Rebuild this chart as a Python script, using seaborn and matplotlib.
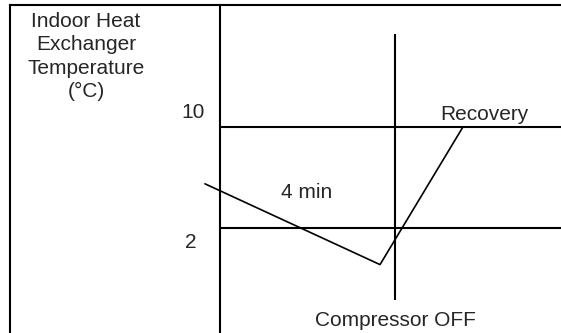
import matplotlib
matplotlib.use("Agg")
import matplotlib.pyplot as plt
from matplotlib.lines import Line2D
import numpy as np
import pandas as pd
import seaborn as sns

# Heat exchanger temperature profile (time in minutes, 0 = drop below 2 °C)
time_min = [-4.0, 3.37, 6.86]
temp_c = [5.5, -0.9, 10.0]
thresholds = [10, 2]
threshold_labels = ["10", "2"]
compressor_off_time = 4.0
hold_label = "4 min"
ylabel_lines = ["Indoor Heat", "Exchanger", "Temperature", "(°C)"]

sns.set_style("white")
plt.rcParams["font.family"] = ["Liberation Sans", "DejaVu Sans"]

W, H = 561, 333
fig = plt.figure(figsize=(W / 100, H / 100), dpi=100)
ax = fig.add_axes([0, 0, 1, 1])


def fx(px):
    return px / W


def fy(py):
    return 1 - py / H


# table frame
lw_frame = 1.5
for xs, ys in [((10, 10), (5, 333)), ((220, 220), (5, 333)), ((10, 561), (5, 5))]:
    fig.add_artist(Line2D([fx(x) for x in xs], [fy(y) for y in ys],
                          color="black", lw=lw_frame, solid_capstyle="projecting"))

# threshold lines across the right cell
cell_left = -3.37
ax.hlines(thresholds, cell_left, 11, colors="black", lw=lw_frame)

# compressor off marker
ax.vlines(compressor_off_time, -3.7, 17.4, colors="black", lw=lw_frame)

# temperature curve
df = pd.DataFrame({"t": time_min, "T": temp_c})
sns.lineplot(data=df, x="t", y="T", ax=ax, color="black", lw=1.2, sort=False,
             estimator=None)
ax.set_xlim(-12.63, 10.99)
ax.set_ylim(-6.317, 20.06)
ax.axis("off")

fs = 15
# axis title, one line at a time on fixed baselines
for i, line in enumerate(ylabel_lines):
    fig.text(fx(86), fy(27 + 23.4 * i), line, ha="center", va="baseline",
             fontsize=fs)
fig.text(fx(193), fy(113), threshold_labels[0], ha="center", va="center", fontsize=fs)
fig.text(fx(190.5), fy(243), threshold_labels[1], ha="center", va="center", fontsize=fs)
fig.text(fx(484), fy(114), "Recovery", ha="center", va="center", fontsize=fs)
fig.text(fx(307), fy(192), hold_label, ha="center", va="center", fontsize=fs)
fig.text(fx(395), fy(320), "Compressor OFF", ha="center", va="center", fontsize=fs)

fig.savefig("out.png", dpi=100)
